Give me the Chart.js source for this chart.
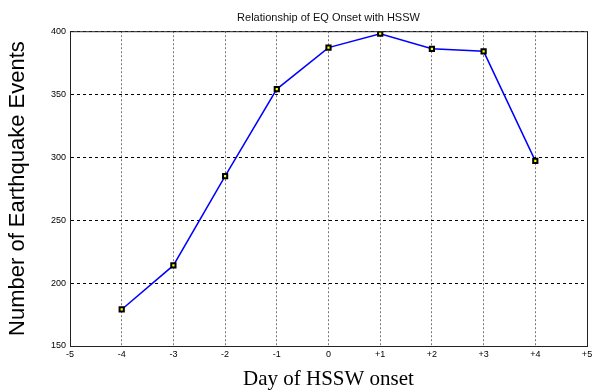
<!DOCTYPE html>
<html>
<head>
<meta charset="utf-8">
<script src="https://cdn.jsdelivr.net/npm/chart.js@4"></script>
<style>
  html, body { margin: 0; padding: 0; background: #fff; }
  #wrap { width: 593px; height: 392px; }
</style>
</head>
<body>
<div id="wrap"><canvas id="eqChart" width="593" height="392"></canvas></div>
<script>
// datos
const days = [-4, -3, -2, -1, 0, 1, 2, 3, 4];
const eventCounts = [179, 214, 285, 354, 387, 398, 386, 384, 297];
const xTickLabels = ['-5', '-4', '-3', '-2', '-1', '0', '+1', '+2', '+3', '+4', '+5'];
const yTicks = [150, 200, 250, 300, 350, 400];

// marco completo alrededor del área del gráfico
const frame = {
    id: 'frame',
    afterDraw(chart) {
        const { ctx, chartArea: a } = chart;
        ctx.save();
        ctx.strokeStyle = '#222';
        ctx.lineWidth = 1;
        ctx.strokeRect(a.left + 0.5, a.top + 0.5, a.right - a.left, a.bottom - a.top);
        ctx.restore();
    }
};

const tickFont = { family: 'Liberation Sans, Arial', size: 9 };

new Chart(document.getElementById('eqChart').getContext('2d'), {
    type: 'line',
    data: {
        datasets: [{
            data: days.map((d, i) => ({ x: d, y: eventCounts[i] })),
            borderColor: '#0000ff',
            borderWidth: 1.5,
            pointStyle: 'rect',
            pointRadius: 3,
            pointBackgroundColor: '#ffff00',
            pointBorderColor: '#000',
            pointBorderWidth: 2,
            tension: 0,
            fill: false,
        }]
    },
    options: {
        responsive: false,
        animation: false,
        layout: { padding: { left: 0, right: 3, top: 0, bottom: 0 } },
        plugins: {
            legend: { display: false },
            tooltip: { enabled: false },
            title: {
                display: true,
                text: 'Relationship of EQ Onset with HSSW',
                color: '#111',
                fullSize: false,
                font: { family: 'Liberation Sans, Arial', size: 11, weight: 'normal', lineHeight: 1.2 },
                padding: { top: 11, bottom: 7 }
            }
        },
        scales: {
            x: {
                type: 'linear',
                min: -5,
                max: 5,
                afterFit: (s) => { s.height = 46; s.paddingLeft = 0; s.paddingRight = 0; },
                ticks: {
                    stepSize: 1,
                    color: '#000',
                    font: tickFont,
                    padding: 3,
                    maxRotation: 0,
                    callback: (v) => xTickLabels[v + 5]
                },
                grid: {
                    color: '#777',
                    lineWidth: 1,
                    drawTicks: false,
                },
                border: { display: true, color: '#222', dash: [2, 2] },
                title: {
                    display: true,
                    text: 'Day of HSSW onset',
                    color: '#000',
                    font: { family: 'Liberation Serif, Times New Roman', size: 21, lineHeight: 1.2 },
                    padding: { top: 0, bottom: 0 }
                }
            },
            y: {
                min: 150,
                max: 400,
                afterFit: (s) => { s.width = 70; },
                afterBuildTicks: (s) => { s.ticks = yTicks.map(v => ({ value: v })); },
                ticks: {
                    color: '#000',
                    font: tickFont,
                    padding: 4
                },
                grid: {
                    color: '#000',
                    lineWidth: 1,
                    drawTicks: false,
                },
                border: { display: true, color: '#222', dash: [3, 3] },
                title: {
                    display: true,
                    text: 'Number of Earthquake Events',
                    color: '#000',
                    font: { family: 'Liberation Sans, Arial', size: 22, lineHeight: 1.2 },
                    padding: { top: 5, bottom: 0 }
                }
            }
        }
    },
    plugins: [frame]
});
</script>
</body>
</html>
